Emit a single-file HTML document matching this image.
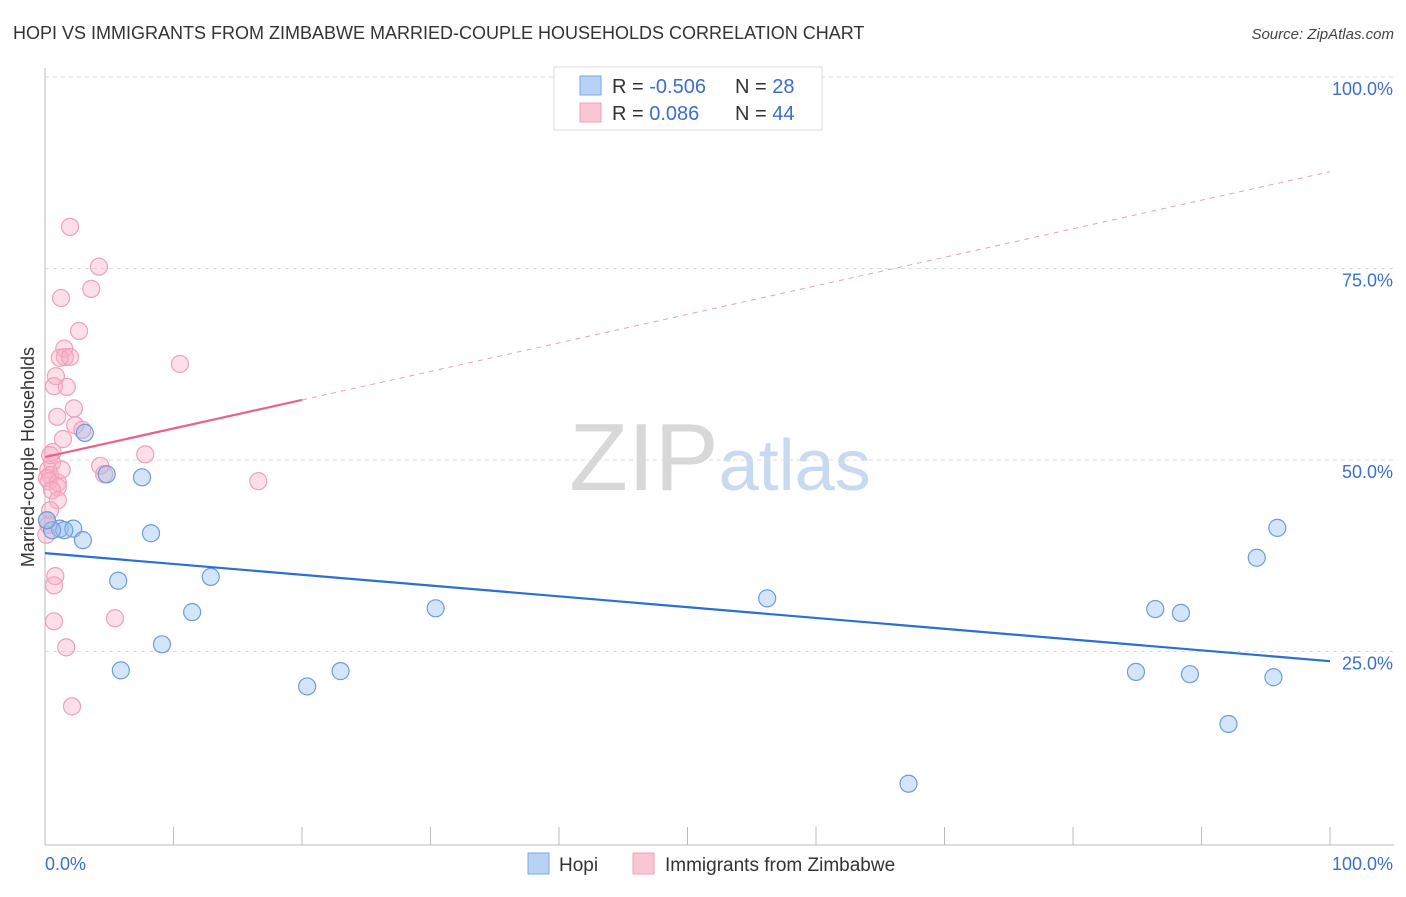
<!DOCTYPE html>
<html><head><meta charset="utf-8"><style>
body{margin:0;background:#fff;font-family:"Liberation Sans",sans-serif}
svg text{font-family:"Liberation Sans",sans-serif}
</style></head><body>
<svg id="chart" width="1406" height="892" xmlns="http://www.w3.org/2000/svg">
<text x="13" y="39" font-size="18" fill="#333">HOPI VS IMMIGRANTS FROM ZIMBABWE MARRIED-COUPLE HOUSEHOLDS CORRELATION CHART</text>
<text x="1394" y="39" font-size="15" fill="#444" text-anchor="end" font-style="italic">Source: ZipAtlas.com</text>
<text x="720" y="490" font-size="96" text-anchor="middle" fill="#ddd" font-family="Liberation Serif"><tspan fill="#d8d8d8">ZIP</tspan><tspan fill="#c8daf2" font-family="Liberation Sans" font-size="72">atlas</tspan></text>
<text transform="translate(34,457) rotate(-90)" font-size="18" fill="#333" text-anchor="middle">Married-couple Households</text>
<g id="grid"></g>
<g id="axes"></g>
<g id="marks"></g>
<g>
<rect x="554" y="67" width="268" height="63" fill="#fff" stroke="#ddd"/>
<rect x="580" y="76" width="21" height="19" fill="#b8d2f4" stroke="#7aa8e6"/>
<rect x="580" y="103" width="21" height="19" fill="#f9c6d4" stroke="#f0a0b8"/>
<text x="612" y="93" font-size="20" fill="#333">R = <tspan fill="#3a6fd1">-0.506</tspan></text>
<text x="735" y="93" font-size="20" fill="#333">N = <tspan fill="#3a6fd1"> 28</tspan></text>
<text x="612" y="120" font-size="20" fill="#333">R = <tspan fill="#3a6fd1">  0.086</tspan></text>
<text x="735" y="120" font-size="20" fill="#333">N = <tspan fill="#3a6fd1"> 44</tspan></text>
</g>
<g>
<rect x="528" y="853" width="21" height="21" fill="#b8d2f4" stroke="#7aa8e6"/>
<text x="559" y="871" font-size="19" fill="#333">Hopi</text>
<rect x="633" y="853" width="21" height="21" fill="#f9c6d4" stroke="#f0a0b8"/>
<text x="665" y="871" font-size="19" fill="#333">Immigrants from Zimbabwe</text>
</g>
</svg>
<script>
const yTicks=[100,75,50,25];
const yTickLabels=["100.0%","75.0%","50.0%","25.0%"];
const xTickLabels=["0.0%","100.0%"];
const hopiX=[3.1,4.8,7.55,8.25,1.15,2.2,1.5,0.55,2.95,0.15,5.7,12.9,11.45,9.1,5.9,20.4,23.0,30.4,56.2,67.2,84.9,86.4,88.4,89.1,92.1,94.3,95.6,95.9];
const hopiY=[53.8,48.4,48.0,40.7,41.3,41.3,41.1,41.1,39.8,42.4,34.5,35.0,30.4,26.2,22.8,20.7,22.7,30.9,32.2,8.0,22.6,30.8,30.3,22.3,15.8,37.5,21.9,41.4];
const zimX=[1.95,4.2,3.6,1.25,2.65,1.5,1.55,1.15,1.95,0.85,0.7,1.7,2.25,0.95,2.35,2.9,1.4,7.8,4.3,0.6,0.55,0.25,0.4,0.15,0.3,1.0,1.0,0.55,1.0,0.4,0.25,10.5,16.6,4.6,0.8,0.7,0.7,5.45,1.65,2.1,0.15,0.1,1.3,0.4];
const zimY=[80.7,75.5,72.6,71.4,67.1,64.8,63.7,63.6,63.7,61.2,59.9,59.8,57.0,55.9,54.8,54.2,53.0,51.0,49.5,51.3,49.9,49.0,48.3,47.9,47.5,47.3,46.7,46.3,45.0,43.7,41.8,62.8,47.5,48.4,35.1,33.9,29.2,29.6,25.8,18.1,42.4,40.5,49.0,50.9];
const hopiTrend=[38.1,24.0];
const zimTrend=[50.65,87.9];
const NS="http://www.w3.org/2000/svg";
const X=v=>45+v*12.85, Y=v=>845-v*7.66;
function mk(t,a,p){const e=document.createElementNS(NS,t);for(const k in a)e.setAttribute(k,a[k]);p.appendChild(e);return e;}
const grid=document.getElementById('grid'),axes=document.getElementById('axes'),marks=document.getElementById('marks');
yTicks.forEach((t,i)=>{
 const l=mk('line',{x1:45,x2:1394,y1:Y(t)-2,y2:Y(t)-2,stroke:'#ddd','stroke-dasharray':'4,4'},grid);
 
 
 const tx=mk('text',{x:1393,y:Y(t)+16,'font-size':18,fill:'#3a6fd1','text-anchor':'end'},axes);
 tx.textContent=yTickLabels[i];
 
 
});
const ax=mk('line',{x1:45,x2:1394,y1:845,y2:845,stroke:'#bbb'},axes);


const ay=mk('line',{x1:45,x2:45,y1:68,y2:845,stroke:'#bbb'},axes);


for(let i=0;i<=10;i++){
 const t=mk('line',{x1:X(i*10),x2:X(i*10),y1:827,y2:845,stroke:'#bbb'},axes);
 
 
}
[[0,'start',45],[100,'end',1393]].forEach((d,i)=>{
 const t=mk('text',{x:d[2],y:870,'font-size':18,fill:'#3a6fd1','text-anchor':d[1]},axes);
 t.textContent=xTickLabels[i];
 
 
});
zimX.forEach((v,i)=>{
 const c=mk('circle',{cx:X(v),cy:Y(zimY[i]),r:8.5,fill:'rgba(248,175,198,0.4)',stroke:'#f0a0b8','stroke-width':1.2},marks);
 
 
});
hopiX.forEach((v,i)=>{
 const c=mk('circle',{cx:X(v),cy:Y(hopiY[i]),r:8.5,fill:'rgba(150,190,240,0.4)',stroke:'#6a9de0','stroke-width':1.2},marks);
 
 
});
const zy=x=>zimTrend[0]+(zimTrend[1]-zimTrend[0])*x/100;
const zs=mk('line',{x1:X(0),y1:Y(zy(0)),x2:X(20),y2:Y(zy(20)),stroke:'#e8628c','stroke-width':2.2},marks);


const zd=mk('line',{x1:X(20),y1:Y(zy(20)),x2:X(100),y2:Y(zy(100)),stroke:'#e8a0b8','stroke-width':1,'stroke-dasharray':'5,5'},marks);


const hl=mk('line',{x1:X(0),y1:Y(hopiTrend[0]),x2:X(100),y2:Y(hopiTrend[1]),stroke:'#2a6fd6','stroke-width':2.2},marks);


</script>
</body></html>
